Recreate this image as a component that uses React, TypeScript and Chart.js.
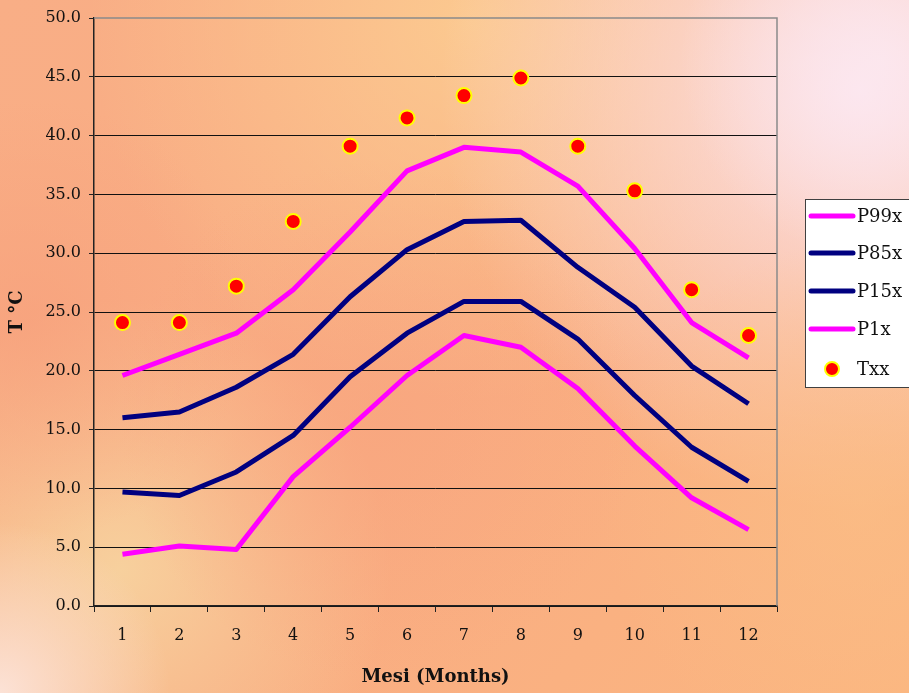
import React, { useEffect, useRef } from "react";
import { Chart, registerables } from "chart.js";

Chart.register(...registerables);

const months = ["1", "2", "3", "4", "5", "6", "7", "8", "9", "10", "11", "12"];
const p99x = [19.6, 21.4, 23.2, 26.9, 31.8, 37.0, 39.0, 38.6, 35.7, 30.4, 24.1, 21.1];
const p85x = [16.0, 16.5, 18.6, 21.4, 26.3, 30.3, 32.7, 32.8, 28.8, 25.4, 20.4, 17.2];
const p15x = [9.7, 9.4, 11.4, 14.5, 19.5, 23.2, 25.9, 25.9, 22.7, 17.9, 13.5, 10.6];
const p1x = [4.4, 5.1, 4.8, 11.0, 15.2, 19.6, 23.0, 22.0, 18.5, 13.6, 9.2, 6.5];
const txx = [24.1, 24.1, 27.2, 32.7, 39.1, 41.5, 43.4, 44.9, 39.1, 35.3, 26.9, 23.0];

const MAGENTA = "#FF00FF";
const NAVY = "#000080";
const FONT = "'DejaVu Serif', serif";

const bgPlugin = {
  id: "bg",
  beforeDraw(chart: any) {
    const { ctx, width, height } = chart;
    ctx.save();
    const lg = ctx.createLinearGradient(0, 0, width, height);
    lg.addColorStop(0, "#F9AE86");
    lg.addColorStop(0.5, "#F9AC82");
    lg.addColorStop(1, "#FBB680");
    ctx.fillStyle = lg;
    ctx.fillRect(0, 0, width, height);
    const radial = (x: number, y: number, r: number, c0: string, c1: string) => {
      const g = ctx.createRadialGradient(x, y, 0, x, y, r);
      g.addColorStop(0, c0);
      g.addColorStop(1, c1);
      ctx.fillStyle = g;
      ctx.fillRect(0, 0, width, height);
    };
    radial(470, 20, 380, "rgba(252,206,146,0.85)", "rgba(252,206,146,0)");
    radial(860, 90, 420, "rgba(252,228,236,1)", "rgba(252,228,236,0)");
    radial(880, 60, 200, "rgba(252,232,240,0.8)", "rgba(252,232,240,0)");
    radial(120, 570, 270, "rgba(247,212,160,0.9)", "rgba(247,212,160,0)");
    radial(0, 693, 170, "rgba(252,226,214,1)", "rgba(252,226,214,0)");
    radial(860, 500, 260, "rgba(251,190,134,0.7)", "rgba(251,190,134,0)");
    radial(380, 420, 260, "rgba(248,164,126,0.6)", "rgba(248,164,126,0)");
    radial(30, 320, 220, "rgba(247,160,124,0.7)", "rgba(247,160,124,0)");
    ctx.restore();
  },
};

const framePlugin = {
  id: "frame",
  afterDraw(chart: any) {
    const { ctx, chartArea } = chart;
    const { left, right, top, bottom } = chartArea;
    ctx.save();
    ctx.strokeStyle = "#8a8a8a";
    ctx.lineWidth = 1.5;
    ctx.beginPath();
    ctx.moveTo(left, top);
    ctx.lineTo(right, top);
    ctx.lineTo(right, bottom);
    ctx.stroke();

    // legend
    const bx = 805.5, by = 199.5, bw = 110, bh = 188;
    ctx.fillStyle = "#ffffff";
    ctx.fillRect(bx, by, bw, bh);
    ctx.strokeStyle = "#404040";
    ctx.lineWidth = 1;
    ctx.strokeRect(bx, by, bw, bh);
    const rows = [216, 253, 291, 329, 369];
    ctx.font = "18px " + FONT;
    ctx.textBaseline = "middle";
    ctx.textAlign = "left";
    chart.data.datasets.forEach((ds: any, i: number) => {
      const y = rows[i];
      if (ds.showLine === false) {
        ctx.beginPath();
        ctx.arc(832, y, 7, 0, Math.PI * 2);
        ctx.fillStyle = ds.pointBackgroundColor;
        ctx.fill();
        ctx.lineWidth = 2;
        ctx.strokeStyle = ds.pointBorderColor;
        ctx.stroke();
      } else {
        ctx.beginPath();
        ctx.moveTo(811, y);
        ctx.lineTo(853, y);
        ctx.lineWidth = 5;
        ctx.lineCap = "round";
        ctx.strokeStyle = ds.borderColor;
        ctx.stroke();
      }
      ctx.fillStyle = "#111";
      ctx.fillText(ds.label, 857, y + 1);
    });
    ctx.restore();
  },
};

export default function App() {
  const ref = useRef<HTMLCanvasElement | null>(null);
  useEffect(() => {
    if (!ref.current) return;
    const lineDs = (label: string, data: number[], color: string) => ({
      label,
      data,
      borderColor: color,
      backgroundColor: color,
      borderWidth: 5,
      pointRadius: 0,
      pointHoverRadius: 0,
      tension: 0,
      fill: false,
      borderJoinStyle: "round" as const,
    });
    const chart = new Chart(ref.current, {
      type: "line",
      data: {
        labels: months,
        datasets: [
          lineDs("P99x", p99x, MAGENTA),
          lineDs("P85x", p85x, NAVY),
          lineDs("P15x", p15x, NAVY),
          lineDs("P1x", p1x, MAGENTA),
          {
            label: "Txx",
            data: txx,
            showLine: false,
            pointRadius: 7.5,
            pointBorderWidth: 2,
            pointBackgroundColor: "#FF0000",
            pointBorderColor: "#FFFF00",
            borderColor: "#FFFF00",
            backgroundColor: "#FF0000",
          } as any,
        ],
      },
      options: {
        responsive: false,
        animation: false,
        layout: { padding: { top: 18, right: 132, left: 0, bottom: 0 } },
        plugins: { legend: { display: false }, tooltip: { enabled: false } },
        scales: {
          x: {
            offset: true,
            grid: {
              offset: true,
              drawOnChartArea: false,
              drawTicks: true,
              tickLength: 6,
              color: "#222",
              tickColor: "#222",
            },
            border: { display: true, color: "#222", width: 1.5 },
            ticks: { font: { family: FONT, size: 16 }, color: "#111", padding: 14, maxRotation: 0 },
            title: {
              display: true,
              text: "Mesi (Months)",
              font: { family: FONT, size: 18, weight: "bold" },
              color: "#111",
              padding: { top: 4, bottom: 5 },
            },
            afterFit(s: any) {
              s.height = 87;
            },
          },
          y: {
            min: 0,
            max: 50,
            ticks: {
              stepSize: 5,
              font: { family: FONT, size: 16 },
              color: "#111",
              padding: 8,
              callback: (v: any) => Number(v).toFixed(1),
            },
            grid: {
              color: (c: any) => (c.tick && c.tick.value === 50 ? "rgba(0,0,0,0)" : "#111"),
              tickColor: "#222",
              tickLength: 5,
              lineWidth: 1,
            },
            border: { display: true, color: "#222", width: 1.5 },
            title: {
              display: true,
              text: "T °C",
              font: { family: FONT, size: 18, weight: "bold" },
              color: "#111",
              padding: { top: 7, bottom: 4 },
            },
            afterFit(s: any) {
              s.width = 94;
            },
          },
        },
      },
      plugins: [bgPlugin, framePlugin],
    });
    return () => chart.destroy();
  }, []);
  return (
    <div style={{ position: "absolute", left: 0, top: 0, width: 909, height: 693 }}>
      <canvas ref={ref} width={909} height={693} style={{ width: 909, height: 693, display: "block" }} />
    </div>
  );
}
